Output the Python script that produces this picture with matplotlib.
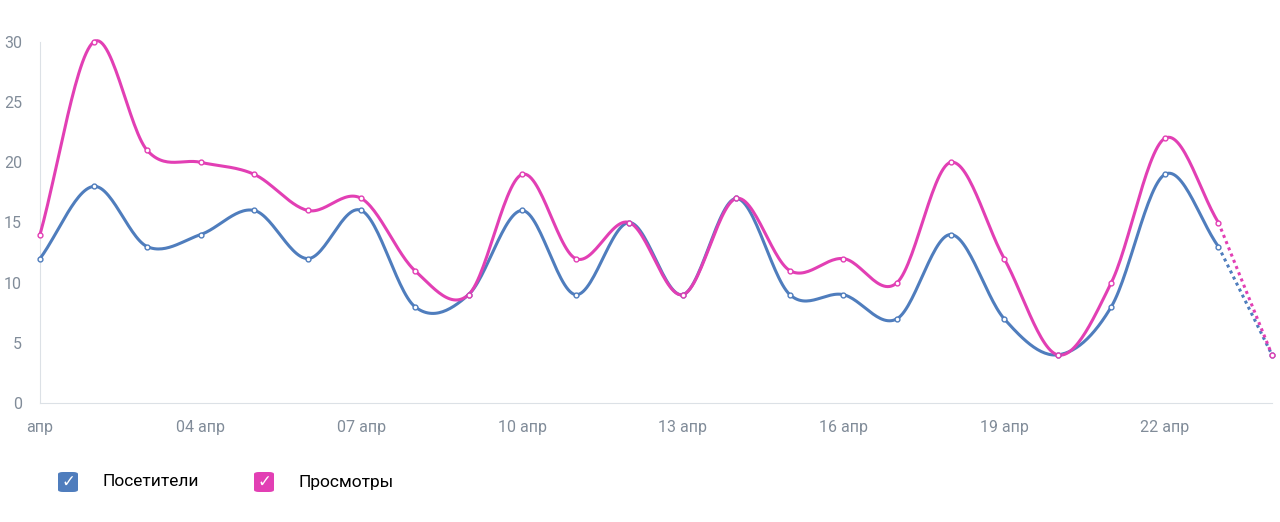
import matplotlib
matplotlib.use("Agg")
import matplotlib.pyplot as plt
import numpy as np
from matplotlib.patches import FancyBboxPatch

plt.rcParams['font.family'] = ['Roboto', 'DejaVu Sans']

days = list(range(1, 25))
visitors = [12, 18, 13, 14, 16, 12, 16, 8, 9, 16, 9, 15, 9, 17, 9, 9, 7, 14, 7, 4, 8, 19, 13, 4]
views = [14, 30, 21, 20, 19, 16, 17, 11, 9, 19, 12, 15, 9, 17, 11, 12, 10, 20, 12, 4, 10, 22, 15, 4]
tick_days = [1, 4, 7, 10, 13, 16, 19, 22]
tick_labels = ['апр', '04 апр', '07 апр', '10 апр', '13 апр', '16 апр', '19 апр', '22 апр']
names = ['Посетители', 'Просмотры']
colors = ['#4f7dbd', '#e23fb4']

def catmull(x, y, n=30):
    x = np.asarray(x, float); y = np.asarray(y, float)
    px = np.concatenate([[2*x[0]-x[1]], x, [2*x[-1]-x[-2]]])
    py = np.concatenate([[2*y[0]-y[1]], y, [2*y[-1]-y[-2]]])
    xs, ys = [], []
    t = np.linspace(0, 1, n)
    for i in range(1, len(px)-2):
        p0, p1, p2, p3 = py[i-1], py[i], py[i+1], py[i+2]
        yy = 0.5*((2*p1) + (-p0+p2)*t + (2*p0-5*p1+4*p2-p3)*t**2 + (-p0+3*p1-3*p2+p3)*t**3)
        xx = px[i] + (px[i+1]-px[i])*t
        xs.append(xx); ys.append(yy)
    return np.concatenate(xs), np.concatenate(ys)

fig = plt.figure(figsize=(12.8, 5.22), dpi=100)
ax = fig.add_axes([40/1280, 1-403/522, 1232/1280, 361/522])

for vals, c in zip([visitors, views], colors):
    sx, sy = catmull(days[:-1], vals[:-1])
    ax.plot(sx, sy, color=c, lw=2.2, clip_on=False, zorder=3)
    ax.plot(days[-2:], vals[-2:], color=c, lw=2.2, ls=(0, (1, 1.2)), clip_on=False, zorder=3)
    ax.plot(days, vals, 'o', ms=3.5, mfc='white', mec=c, mew=1, clip_on=False, zorder=4)

ax.set_xlim(1, 24)
ax.set_ylim(0, 30)
ax.set_yticks(range(0, 31, 5))
ax.set_xticks(tick_days)
ax.set_xticklabels(tick_labels)
for s in ['top', 'right']:
    ax.spines[s].set_visible(False)
for s in ['left', 'bottom']:
    ax.spines[s].set_color('#dce1e6')
ax.tick_params(length=0, colors='#818c99', labelsize=11.5)
ax.tick_params(axis='x', pad=12)
ax.tick_params(axis='y', pad=13)

# legend
for i, (nm, c) in enumerate(zip(names, colors)):
    x0 = [58, 254][i]
    box = FancyBboxPatch((x0/1280, 1-492/522), 20/1280, 20/522,
                         boxstyle="round,pad=0,rounding_size=0.004",
                         transform=fig.transFigure, fc=c, ec='none')
    fig.patches.append(box)
    fig.text((x0+10)/1280, 1-482/522, '✓', color='white', ha='center', va='center',
             fontsize=12, fontweight='bold', family='DejaVu Sans')
    fig.text((x0+44)/1280, 1-482/522, nm, color='#000000', ha='left', va='center', fontsize=12.5)

fig.savefig('out.png', dpi=100)
